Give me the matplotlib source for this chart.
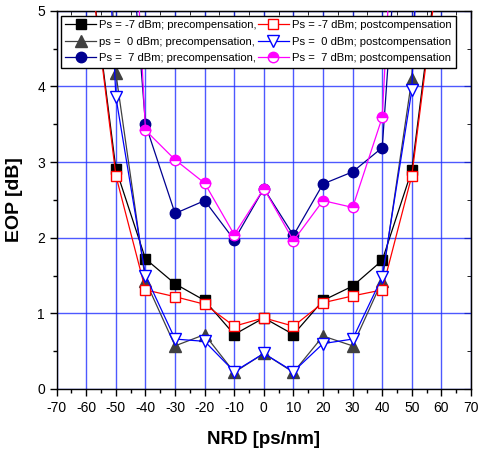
import matplotlib

matplotlib.use("Agg")
import matplotlib.pyplot as plt
from matplotlib.ticker import MultipleLocator

plt.rcParams["font.family"] = ["Liberation Sans", "DejaVu Sans"]
plt.rcParams["axes.unicode_minus"] = False

nrd = [-60, -50, -40, -30, -20, -10, 0, 10, 20, 30, 40, 50, 60]

pre_m7 = [6.0, 2.91, 1.72, 1.39, 1.17, 0.72, 0.94, 0.72, 1.17, 1.36, 1.70, 2.89, 6.0]
post_m7 = [6.0, 2.82, 1.31, 1.22, 1.12, 0.83, 0.94, 0.83, 1.14, 1.23, 1.31, 2.82, 5.9]
pre_0 = [12.0, 4.17, 1.43, 0.57, 0.72, 0.22, 0.47, 0.22, 0.70, 0.57, 1.43, 4.10, 14.0]
post_0 = [12.0, 3.86, 1.50, 0.66, 0.63, 0.23, 0.47, 0.23, 0.60, 0.66, 1.48, 3.95, 14.0]
pre_7 = [12.0, 8.5, 3.50, 2.32, 2.49, 1.97, 2.65, 2.03, 2.71, 2.87, 3.19, 8.8, 12.0]
post_7 = [14.0, 11.0, 3.42, 3.03, 2.72, 2.04, 2.65, 1.96, 2.49, 2.40, 3.59, 11.0, 14.0]

labels = [
    "Ps = -7 dBm; precompensation,",
    "ps =  0 dBm; precompensation,",
    "Ps =  7 dBm; precompensation,",
    "Ps = -7 dBm; postcompensation",
    "Ps =  0 dBm; postcompensation",
    "Ps =  7 dBm; postcompensation",
]

fig = plt.figure(figsize=(4.81, 4.53), dpi=100)
ax = fig.add_axes([56.7 / 481, 1 - 389 / 453, (471 - 56.7) / 481, (389 - 10.7) / 453])

ax.plot(nrd, pre_m7, color="black", lw=0.9, marker="s", ms=7.5,
        mfc="black", mec="black", label=labels[0], zorder=3)
ax.plot(nrd, pre_0, color="#404040", lw=0.9, marker="^", ms=8,
        mfc="#404040", mec="#404040", label=labels[1], zorder=3)
ax.plot(nrd, pre_7, color="#000090", lw=0.9, marker="o", ms=7.5,
        mfc="#000090", mec="#000090", label=labels[2], zorder=3)
ax.plot(nrd, post_m7, color="#ff0000", lw=0.9, marker="s", ms=7.5,
        mfc="white", mec="#ff0000", label=labels[3], zorder=4)
ax.plot(nrd, post_0, color="#0000ff", lw=0.9, marker="v", ms=8.5,
        mfc="white", mec="#0000ff", label=labels[4], zorder=4)
ax.plot(nrd, post_7, color="#ff00ff", lw=0.9, marker="o", ms=7.5,
        mfc="#ff00ff", mec="#ff00ff", fillstyle="top", markerfacecoloralt="white",
        label=labels[5], zorder=4)

ax.set_xlim(-70, 70)
ax.set_ylim(0, 5)
ax.xaxis.set_major_locator(MultipleLocator(10))
ax.xaxis.set_minor_locator(MultipleLocator(5))
ax.yaxis.set_major_locator(MultipleLocator(1))
ax.yaxis.set_minor_locator(MultipleLocator(0.5))
ax.grid(True, which="major", color="#2030ff", lw=1.0, alpha=0.8)
ax.tick_params(which="both", direction="out", labelsize=10, color="black")
ax.tick_params(which="major", length=5, width=1)
ax.tick_params(which="minor", length=3, width=1)
for spine in ax.spines.values():
    spine.set_linewidth(1.0)

top = ax.secondary_xaxis("top")
top.xaxis.set_major_locator(MultipleLocator(10))
top.xaxis.set_minor_locator(MultipleLocator(5))
top.tick_params(which="both", direction="in", labeltop=False)
top.tick_params(which="major", length=5)
top.tick_params(which="minor", length=3)
right = ax.secondary_yaxis("right")
right.yaxis.set_major_locator(MultipleLocator(1))
right.yaxis.set_minor_locator(MultipleLocator(0.5))
right.tick_params(which="both", direction="in", labelright=False)
right.tick_params(which="major", length=5)
right.tick_params(which="minor", length=3)

ax.set_xlabel("NRD [ps/nm]", fontsize=13.5, fontweight="bold", labelpad=12)
ax.set_ylabel("EOP [dB]", fontsize=14, fontweight="bold", labelpad=10)

leg = ax.legend(ncol=2, loc="upper left", bbox_to_anchor=(0.01, 0.987),
                fontsize=8.1, handlelength=2.7, handletextpad=0.3,
                columnspacing=0.15, borderpad=0.4, labelspacing=0.58,
                borderaxespad=0.0, fancybox=False, framealpha=1,
                edgecolor="black")
leg.get_frame().set_linewidth(1.0)

fig.savefig("out.png", dpi=100)
